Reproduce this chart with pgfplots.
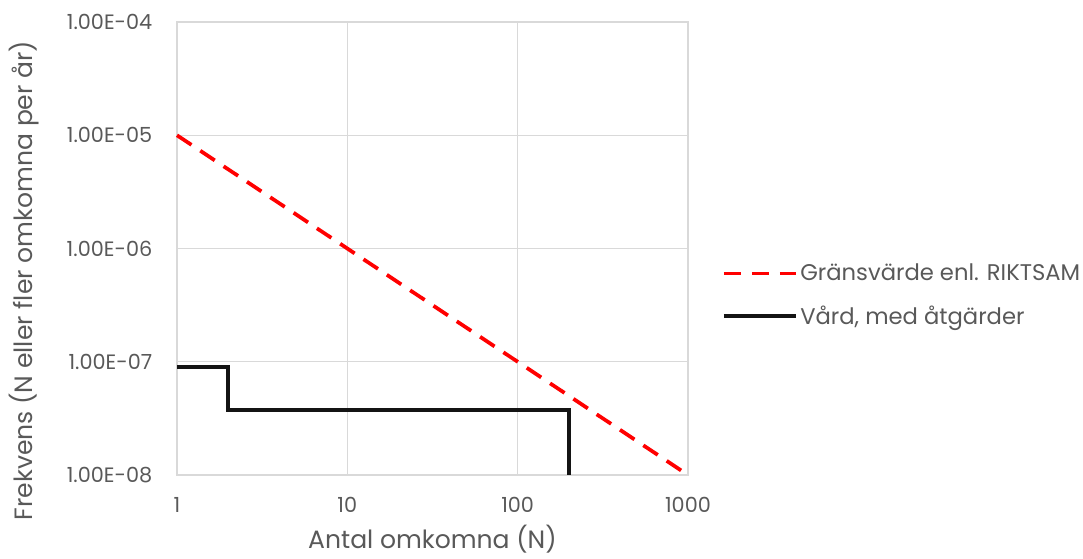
\documentclass[border=0pt]{standalone}
\usepackage{pgfplots}
\pgfplotsset{compat=1.18}
\usepackage{fontspec}
\setmainfont{Poppins}
\definecolor{txt}{HTML}{595959}
\definecolor{grd}{HTML}{D9D9D9}
\begin{document}
\begin{tikzpicture}
\useasboundingbox (-132.75pt,-62.25pt) rectangle (679.5pt,356.25pt);
\begin{axis}[
  at={(0,0)}, anchor=south west,
  width=383.25pt, height=339.75pt, scale only axis,
  xmode=log, ymode=log,
  xmin=1, xmax=1000, ymin=1e-8, ymax=1e-4,
  xtick={1,10,100,1000}, xticklabels={1,10,100,1000},
  ytick={1e-8,1e-7,1e-6,1e-5,1e-4},
  yticklabels={1.00E-08,1.00E-07,1.00E-06,1.00E-05,1.00E-04},
  minor tick num=0, minor xtick={}, minor ytick={},
  grid=major, major grid style={grd, line width=0.9pt},
  axis line style={grd, line width=0.9pt},
  tick style={draw=none},
  tick label style={font=\fontsize{15.6}{18}\selectfont, text=txt},
  xticklabel style={yshift=-13pt},
  yticklabel style={xshift=-15pt},
  xlabel={Antal omkomna (N)},
  ylabel={Frekvens (N eller fler omkomna per år)},
  label style={font=\fontsize{18.8}{22}\selectfont, text=txt},
  xlabel style={yshift=-2.5pt},
  ylabel style={yshift=14pt, xshift=-24pt},
  legend style={draw=none, fill=none, at={(1.058,0.478)}, anchor=north west,
    font=\fontsize{17}{20}\selectfont, text=txt, row sep=13pt,
    /tikz/every even column/.append style={column sep=0pt}},
  legend cell align=left,
  legend image code/.code={\draw[#1] (0pt,0pt) -- (54pt,0pt);},
  clip=false,
]
\addplot[red, line width=2.8pt, dash pattern=on 13pt off 8pt] coordinates {(1,1e-5) (1000,1e-8)};
\addlegendentry{Gränsvärde enl. RIKTSAM}
\addplot[black!92, line width=2.8pt] coordinates {(1,9e-8) (2,9e-8) (2,3.75e-8) (200,3.75e-8) (200,1e-8)};
\addlegendentry{Vård, med åtgärder}
\end{axis}
\end{tikzpicture}
\end{document}
